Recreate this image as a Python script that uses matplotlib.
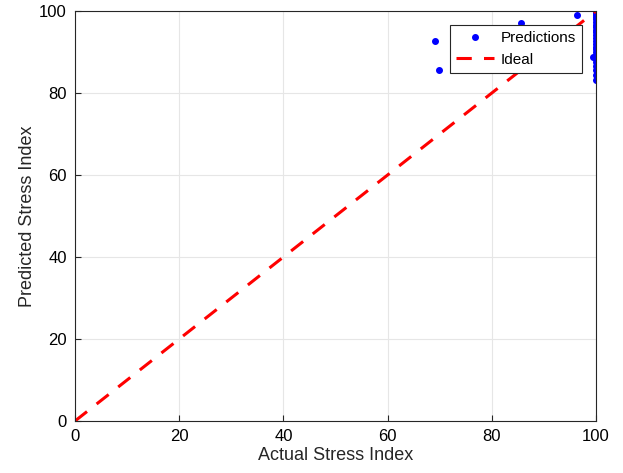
import matplotlib.pyplot as plt

# predicted vs actual stress index
actual = [69.1, 69.9, 85.6, 96.4, 99.4,
          100, 100, 100, 100, 100, 100, 100, 100, 100, 100,
          100, 100, 100, 100, 100, 100, 100, 100, 100, 100,
          100, 100, 100, 100]
predicted = [92.7, 85.6, 97.0, 99.0, 88.7,
             100.0, 99.6, 99.0, 98.5, 98.0, 97.3, 96.6, 96.0, 95.4, 94.8,
             94.2, 93.5, 92.8, 92.0, 91.3, 90.7, 90.0, 89.2, 88.4, 87.6,
             86.6, 85.5, 84.3, 83.2]
ideal = [0, 100]

plt.rcParams['font.family'] = ['Liberation Sans', 'DejaVu Sans']
fig = plt.figure(figsize=(6.23, 4.73), dpi=100)
ax = fig.add_axes([75 / 623, 52 / 473, 521 / 623, 410 / 473])

ax.plot(actual, predicted, 'o', color='#0000ff', markersize=4, label='Predictions')
ax.plot(ideal, ideal, '--', color='#ff0000', linewidth=2.2, dashes=(5, 4), label='Ideal')

ax.set_xlim(0, 100)
ax.set_ylim(0, 100)
ax.set_xticks([0, 20, 40, 60, 80, 100])
ax.set_yticks([0, 20, 40, 60, 80, 100])
ax.grid(True, color='#e6e6e6', linewidth=0.8)
ax.set_axisbelow(True)
ax.tick_params(labelsize=12, direction='in', length=4, color='#262626', pad=6)
for s in ax.spines.values():
    s.set_color('#262626')
ax.set_xlabel('Actual Stress Index', fontsize=13, color='#262626', labelpad=2)
ax.set_ylabel('Predicted Stress Index', fontsize=13, color='#262626', labelpad=2)

leg = ax.legend(loc='upper right', bbox_to_anchor=(0.973, 0.966), fontsize=11,
                fancybox=False, edgecolor='#262626', framealpha=1, borderpad=0.4,
                handlelength=2.5, labelspacing=0.5, handletextpad=0.4,
                borderaxespad=0)
leg.get_frame().set_linewidth(0.8)

plt.savefig('out.png', dpi=100)
